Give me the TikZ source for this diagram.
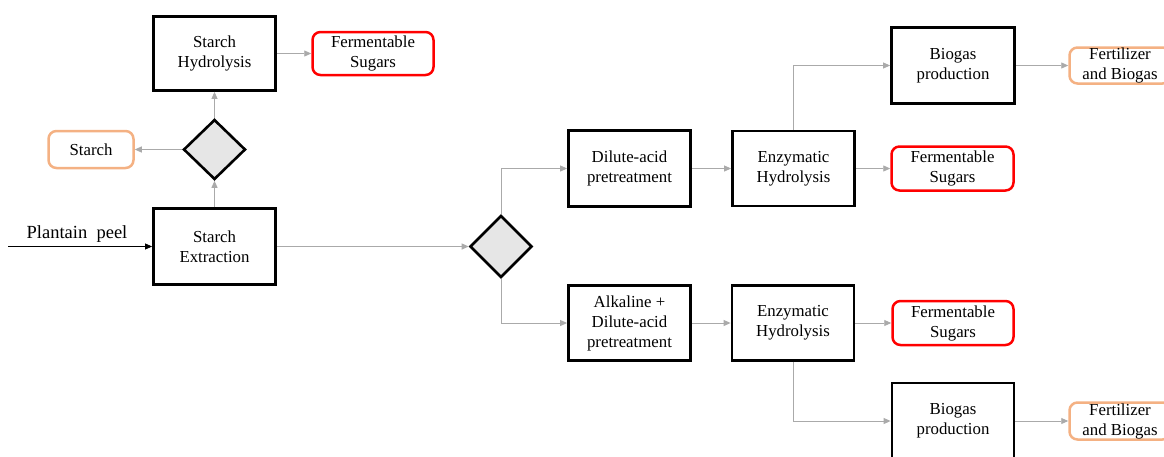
\documentclass[tikz,border=0pt]{standalone}
\usepackage{fontspec}
\setmainfont{Liberation Serif}
\usetikzlibrary{shapes.geometric,arrows.meta}
\definecolor{conn}{RGB}{170,170,170}
\definecolor{redbox}{RGB}{255,0,0}
\definecolor{orangebox}{RGB}{244,177,131}
\definecolor{dfill}{RGB}{230,230,230}
\tikzset{
  txt/.style={font=\fontsize{16.8}{20}\selectfont, align=center, inner sep=0pt},
  procbox/.style={txt, draw=black, line width=2.8pt, fill=white},
  redprod/.style={txt, draw=redbox, line width=2.5pt, rounded corners=8pt, fill=white},
  orangeprod/.style={txt, draw=orangebox, line width=2.5pt, rounded corners=8pt, fill=white},
  decision/.style={diamond, draw=black, line width=2.6pt, fill=dfill, inner sep=0pt},
  flow/.style={draw=conn, line width=0.9pt, -{Triangle[length=7pt,width=6pt]}},
  inflow/.style={draw=black, line width=0.8pt, -{Triangle[length=7pt,width=6pt]}}
}
\begin{document}
\begin{tikzpicture}[x=1pt,y=-1pt]
\useasboundingbox (0,0) rectangle (1164,456);
% left part
\node[procbox, minimum width=122pt, minimum height=74pt] (sh) at (214.5,53.5) {Starch\\Hydrolysis};
\node[redprod, minimum width=121pt, minimum height=43pt] (fs1) at (373,53.5) {Fermentable\\Sugars};
\node[decision, minimum width=62pt, minimum height=60pt] (d1) at (214.5,149.5) {};
\node[orangeprod, minimum width=85pt, minimum height=37pt] (st) at (91,149.5) {Starch};
\node[procbox, minimum width=122pt, minimum height=76pt] (se) at (214.5,246.5) {Starch\\Extraction};
\coordinate (peel) at (8,246.5);
\node[txt, font=\fontsize{18.5}{20}\selectfont, anchor=base] (peellbl) at (77,238) {Plantain\ \ peel};
% middle
\node[decision, minimum width=62pt, minimum height=62pt] (d2) at (501,246.5) {};
\node[procbox, minimum width=122pt, minimum height=76pt] (da) at (629.5,168.5) {Dilute-acid\\pretreatment};
\node[procbox, minimum width=122pt, minimum height=75pt] (eh1) at (793.5,168.5) {Enzymatic\\Hydrolysis};
\node[redprod, minimum width=122pt, minimum height=44pt] (fs2) at (952.5,168.5) {Fermentable\\Sugars};
\node[procbox, minimum width=123pt, minimum height=76pt] (bg1) at (953,65.5) {Biogas\\production};
\node[orangeprod, minimum width=101pt, minimum height=36pt] (fb1) at (1120,65.5) {Fertilizer\\and Biogas};
\node[procbox, minimum width=122pt, minimum height=75pt] (ak) at (629.5,323) {Alkaline +\\Dilute-acid\\pretreatment};
\node[procbox, minimum width=122pt, minimum height=75pt] (eh2) at (793,323) {Enzymatic\\Hydrolysis};
\node[redprod, minimum width=121pt, minimum height=44pt] (fs3) at (953,323) {Fermentable\\Sugars};
\node[procbox, minimum width=122pt, minimum height=76pt] (bg2) at (953,421) {Biogas\\production};
\node[orangeprod, minimum width=101pt, minimum height=37pt] (fb2) at (1120,421) {Fertilizer\\and Biogas};
% connectors
\draw[inflow] (peel) -- (se.west);
\draw[flow] (se.north) -- (d1.south);
\draw[flow] (d1.north) -- (sh.south);
\draw[flow] (d1.west) -- (st.east);
\draw[flow] (sh.east |- fs1.west) -- (fs1.west);
\draw[flow] (se.east) -- (d2.west);
\draw[flow] (d2.north) |- (da.west);
\draw[flow] (d2.south) |- (ak.west);
\draw[flow] (da.east |- eh1.west) -- (eh1.west);
\draw[flow] (eh1.east |- fs2.west) -- (fs2.west);
\draw[flow] (eh1.north) |- (bg1.west);
\draw[flow] (bg1.east |- fb1.west) -- (fb1.west);
\draw[flow] (ak.east) -- (eh2.west);
\draw[flow] (eh2.east |- fs3.west) -- (fs3.west);
\draw[flow] (eh2.south) |- (bg2.west);
\draw[flow] (bg2.east |- fb2.west) -- (fb2.west);
\end{tikzpicture}
\end{document}
